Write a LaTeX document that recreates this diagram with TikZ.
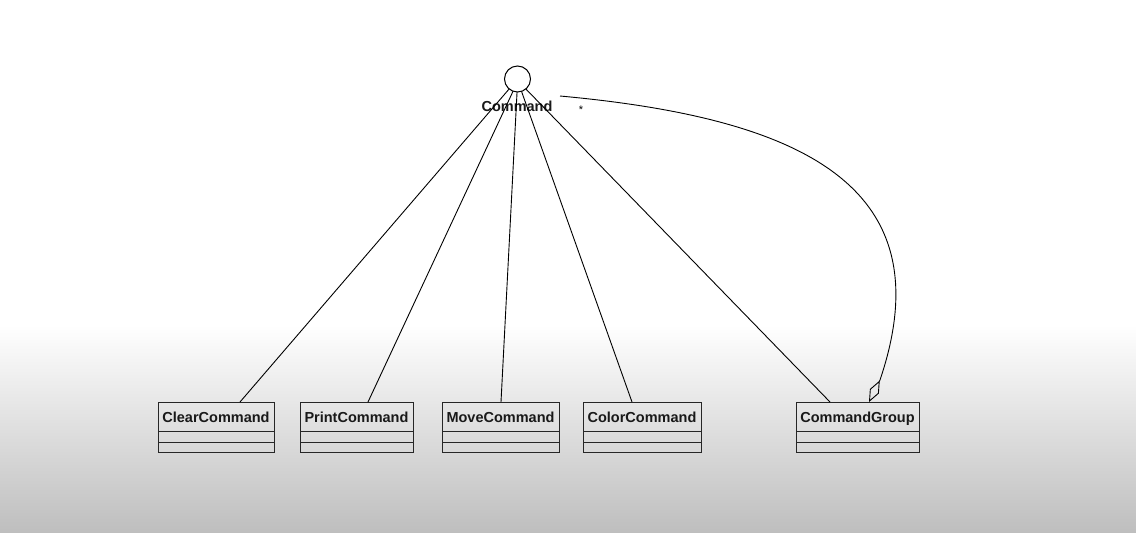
\documentclass[tikz,border=0pt]{standalone}
\usepackage{fontspec}
\setmainfont{Liberation Sans}
\usetikzlibrary{arrows.meta,calc}
\tikzset{
  umlname/.style={draw=black!85, line width=1pt, rectangle, inner sep=0pt, outer sep=0pt,
    minimum height=29pt, text height=12.5pt, text depth=1.5pt,
    font=\fontsize{14.5}{17}\selectfont\bfseries, text=black!90},
  umlcomp/.style={draw=black!85, line width=1pt},
  link/.style={draw=black, line width=0.9pt},
  iface/.style={draw=black, line width=1pt, circle, minimum size=26pt, inner sep=0pt, outer sep=0pt, fill=white},
}
\newcommand\umlcls[4]{% name, x1, x2, text
  \pgfmathsetmacro\clsw{#3-#2}
  \node[umlname, minimum width=\clsw pt, anchor=north west] (#1) at (#2,402) {#4};
  \draw[umlcomp] (#1.south west) rectangle ($(#1.south east)+(0,21)$);
  \draw[umlcomp] ($(#1.south west)+(0,11)$) -- ($(#1.south east)+(0,11)$);
}
\begin{document}
\begin{tikzpicture}[x=1pt,y=-1pt]
  \useasboundingbox (0,0) rectangle (1136,533);
  \fill[white] (0,0) rectangle (1136,326);
  \shade[top color=white, bottom color={rgb,255:red,190;green,190;blue,190}] (0,325) rectangle (1136,533);

  \umlcls{clear}{158}{274}{ClearCommand}
  \umlcls{print}{300}{413}{PrintCommand}
  \umlcls{move}{442}{559}{MoveCommand}
  \umlcls{color}{583}{701}{ColorCommand}
  \umlcls{group}{796}{919}{CommandGroup}

  \node[iface] (cmd) at (517.5,79) {};
  \node[font=\fontsize{14.5}{17}\selectfont\bfseries, text=black!90, inner sep=0pt] (cmdlabel) at (517,106) {Command};
  \node[font=\fontsize{11}{13}\selectfont, inner sep=0pt] (mult) at (581,110) {*};

  \draw[link] (cmd.-130) -- ($(clear.north west)+(82,0)$);
  \draw[link] (cmd.-110) -- ($(print.north west)+(68,0)$);
  \draw[link] (cmd.-92) -- ($(move.north west)+(59,0)$);
  \draw[link] (cmd.-72) -- ($(color.north west)+(49,0)$);
  \draw[link] (cmd.-50) -- ($(group.north west)+(34,0)$);

  \coordinate (aggstart) at (560,96);
  \coordinate (aggbend) at (880,380);
  \draw[link, -{Diamond[open,length=24pt,width=10pt,line width=0.9pt]}]
    (aggstart) .. controls (800,118) and (946,185) .. (aggbend)
    -- ($(group.north west)+(73,0)$);
\end{tikzpicture}
\end{document}
